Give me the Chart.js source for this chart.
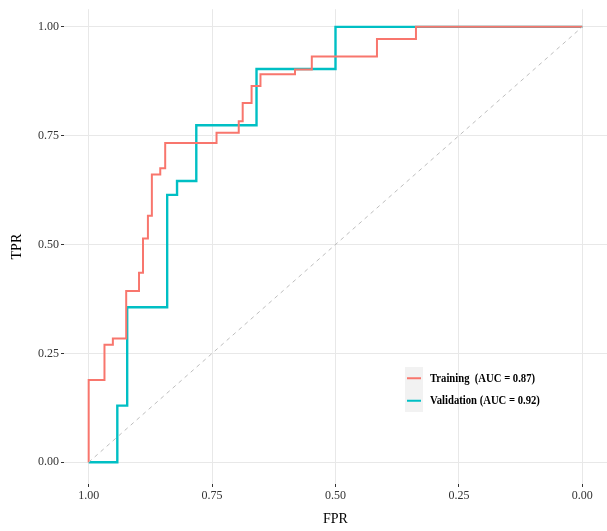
<!DOCTYPE html>
<html>
<head>
<meta charset="utf-8">
<script src="https://cdn.jsdelivr.net/npm/chart.js@4"></script>
<style>
  html, body { margin: 0; padding: 0; background: #fff; }
  #wrap { width: 607px; height: 531px; position: relative; }
</style>
</head>
<body>
<div id="wrap"><canvas id="roc"></canvas></div>
<script>
// ROC points (x axis runs 1 -> 0)
const trainFPR = [1.000, 1.000, 0.968, 0.951, 0.924, 0.898, 0.890, 0.880, 0.872, 0.855, 0.845,
                  0.741, 0.696, 0.688, 0.670, 0.652, 0.582, 0.548, 0.416, 0.337, 0.000];
const trainTPR = [0.000, 0.189, 0.270, 0.284, 0.393, 0.435, 0.514, 0.566, 0.661, 0.675, 0.733,
                  0.757, 0.783, 0.825, 0.864, 0.891, 0.902, 0.932, 0.972, 1.000, 1.000];
const validFPR = [1.000, 0.942, 0.922, 0.841, 0.821, 0.782, 0.660, 0.500, 0.000];
const validTPR = [0.000, 0.130, 0.356, 0.614, 0.646, 0.774, 0.903, 1.000, 1.000];
const diagFPR = [1, 0];
const diagTPR = [0, 1];

const tickValues = [0, 0.25, 0.5, 0.75, 1];
const seriesLabels = ['Training  (AUC = 0.87)', 'Validation (AUC = 0.92)'];
const seriesColors = ['#F8766D', '#00BFC4'];

const SERIF = "'Liberation Serif', 'Times New Roman', serif";
const toPoints = (xs, ys) => xs.map((x, i) => ({ x, y: ys[i] }));

// legend sits inside the panel, like ggplot's legend.position = c(x, y)
const insideLegend = {
    id: 'insideLegend',
    afterDraw(chart) {
        const ctx = chart.ctx;
        const left = 405, top = 367, rowH = 22.5;
        ctx.save();
        ctx.fillStyle = '#F2F2F2';
        ctx.fillRect(left, top, 18, rowH * seriesLabels.length);
        seriesLabels.forEach((label, i) => {
            const cy = top + rowH * i + rowH / 2;
            ctx.strokeStyle = seriesColors[i];
            ctx.lineWidth = 2;
            ctx.beginPath();
            ctx.moveTo(left + 2, cy);
            ctx.lineTo(left + 16, cy);
            ctx.stroke();
            // the reference text is a little narrow, squeeze it horizontally
            ctx.save();
            ctx.translate(left + 25, cy);
            ctx.scale(0.82, 1);
            ctx.fillStyle = '#000';
            ctx.font = 'bold 13px ' + SERIF;
            ctx.textBaseline = 'middle';
            ctx.textAlign = 'left';
            ctx.fillText(label, 0, 0);
            ctx.restore();
        });
        ctx.restore();
    }
};

new Chart(document.getElementById('roc'), {
    type: 'line',
    data: {
        datasets: [
            {
                label: 'diagonal',
                data: toPoints(diagFPR, diagTPR),
                borderColor: '#BDBDBD',
                borderWidth: 1,
                borderDash: [4, 4],
                pointRadius: 0
            },
            {
                label: seriesLabels[0],
                data: toPoints(trainFPR, trainTPR),
                borderColor: seriesColors[0],
                borderWidth: 2,
                stepped: 'before',
                pointRadius: 0
            },
            {
                label: seriesLabels[1],
                data: toPoints(validFPR, validTPR),
                borderColor: seriesColors[1],
                borderWidth: 2.4,
                stepped: 'before',
                pointRadius: 0
            }
        ]
    },
    options: {
        responsive: true,
        maintainAspectRatio: false,
        animation: false,
        layout: { padding: 0 },
        plugins: {
            legend: { display: false },
            tooltip: { enabled: false }
        },
        scales: {
            x: {
                type: 'linear',
                reverse: true,
                min: -0.05,
                max: 1.05,
                afterBuildTicks: s => { s.ticks = tickValues.map(v => ({ value: v })); },
                afterFit: s => { s.height = 47; },
                ticks: {
                    color: '#333',
                    font: { family: SERIF, size: 12 },
                    padding: 2,
                    maxRotation: 0,
                    callback: v => v.toFixed(2)
                },
                grid: { color: '#E8E8E8', lineWidth: 1, tickColor: '#333', tickLength: 3 },
                border: { display: false },
                title: {
                    display: true,
                    text: 'FPR',
                    color: '#000',
                    font: { family: SERIF, size: 14 },
                    padding: { top: 0, bottom: 3 }
                }
            },
            y: {
                type: 'linear',
                min: -0.05,
                max: 1.0405,
                afterBuildTicks: s => { s.ticks = tickValues.map(v => ({ value: v })); },
                afterFit: s => { s.width = 64; },
                ticks: {
                    color: '#333',
                    font: { family: SERIF, size: 12 },
                    padding: 2,
                    callback: v => v.toFixed(2)
                },
                grid: { color: '#E8E8E8', lineWidth: 1, tickColor: '#333', tickLength: 3 },
                border: { display: false },
                title: {
                    display: true,
                    text: 'TPR',
                    color: '#000',
                    font: { family: SERIF, size: 14 },
                    padding: { top: 9, bottom: 0 }
                }
            }
        }
    },
    plugins: [insideLegend]
});
</script>
</body>
</html>
